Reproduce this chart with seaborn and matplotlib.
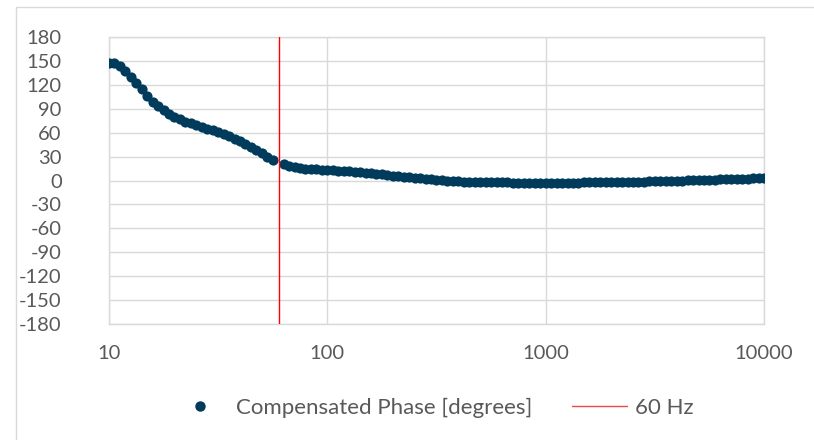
import matplotlib
matplotlib.use("Agg")
import matplotlib.pyplot as plt
import seaborn as sns
import pandas as pd
from matplotlib.lines import Line2D

freq = [10.00, 10.59, 11.22, 11.89, 12.59, 13.34, 14.13, 14.96, 15.85, 16.79,
        17.78, 18.84, 19.95, 21.13, 22.39, 23.71, 25.12, 26.61, 28.18, 29.85,
        31.62, 33.50, 35.48, 37.58, 39.81, 42.17, 44.67, 47.32, 50.12, 53.09,
        56.23, 63.10, 66.83, 70.79, 74.99, 79.43, 84.14, 89.13, 94.41,
        100.0, 105.9, 112.2, 118.9, 125.9, 133.4, 141.3, 149.6, 158.5, 167.9,
        177.8, 188.4, 199.5, 211.3, 223.9, 237.1, 251.2, 266.1, 281.8, 298.5,
        316.2, 335.0, 354.8, 375.8, 398.1, 421.7, 446.7, 473.2, 501.2, 530.9,
        562.3, 595.7, 631.0, 668.3, 707.9, 749.9, 794.3, 841.4, 891.3, 944.1,
        1000, 1059, 1122, 1189, 1259, 1334, 1413, 1496, 1585, 1679,
        1778, 1884, 1995, 2113, 2239, 2371, 2512, 2661, 2818, 2985,
        3162, 3350, 3548, 3758, 3981, 4217, 4467, 4732, 5012, 5309,
        5623, 5957, 6310, 6683, 7079, 7499, 7943, 8414, 8913, 9441, 10000]
phase = [147.5, 147, 144, 137, 130, 122, 115, 106, 99, 93,
         88, 84, 80, 77, 74, 71.5, 69, 67, 65, 63,
         60.5, 58, 55.5, 52.5, 49.5, 46, 42, 38, 34, 30,
         26, 20.5, 18.5, 17, 16, 15, 14.3, 13.8, 13.4,
         13, 12.7, 12.3, 11.8, 11.3, 10.8, 10.2, 9.6, 9, 8.3,
         7.6, 6.9, 6.2, 5.5, 4.8, 4.1, 3.4, 2.7, 2.0, 1.4,
         0.8, 0.3, -0.2, -0.6, -1.0, -1.3, -1.6, -1.8, -2.0, -2.2,
         -2.3, -2.4, -2.5, -2.5, -2.6, -2.6, -2.6, -2.7, -2.7, -2.7,
         -2.7, -2.8, -2.8, -2.8, -2.8, -2.7, -2.6, -2.5, -2.3, -2.2,
         -2.1, -2.0, -1.9, -1.8, -1.7, -1.6, -1.5, -1.4, -1.3, -1.1,
         -1.0, -0.8, -0.7, -0.5, -0.3, -0.1, 0.1, 0.3, 0.5, 0.8,
         1.0, 1.2, 1.4, 1.7, 1.9, 2.1, 2.3, 2.5, 2.7, 2.9, 3.1]
marker_freq = 60
y_ticks = list(range(-180, 181, 30))
x_ticks = [10, 100, 1000, 10000]
series_label = "Compensated Phase [degrees]"
line_label = "60 Hz"

df = pd.DataFrame({"freq": freq, "phase": phase})

sns.set_theme(style="white")
plt.rcParams["font.family"] = ["Lato", "DejaVu Sans"]

FS = 14.5
LFS = 16
fig = plt.figure(figsize=(8.14, 4.40), dpi=100)
ax = fig.add_axes([109/814, 1-324/440, (764-109)/814, (324-37)/440])

dot_color = "#003B5C"
sns.scatterplot(data=df, x="freq", y="phase", ax=ax, color=dot_color,
                s=54, edgecolor=dot_color, linewidth=0, zorder=3, legend=False)
ax.axvline(marker_freq, color="#FF0000", lw=1.0, zorder=4)

ax.set_xscale("log")
ax.set_xlim(10, 10000)
ax.set_ylim(-180, 180)
ax.set_xticks(x_ticks)
ax.set_xticklabels([str(t) for t in x_ticks])
ax.minorticks_off()
ax.set_yticks(y_ticks)
ax.set_yticklabels([str(t) for t in y_ticks])
ax.grid(True, color="#D9D9D9", lw=1.0)
ax.set_axisbelow(True)
for s in ax.spines.values():
    s.set_visible(True)
    s.set_color("#D9D9D9")
    s.set_linewidth(1.0)
ax.tick_params(axis="both", length=0, labelsize=FS, colors="#595959")
ax.tick_params(axis="x", pad=15)
ax.tick_params(axis="y", pad=34)
ax.set_xlabel("")
ax.set_ylabel("")

handles = [Line2D([0], [0], marker="o", color="none", markerfacecolor=dot_color,
                  markeredgecolor=dot_color, markersize=6.5),
           Line2D([0], [0], color="#E84848", lw=1.0)]
leg = fig.legend(handles, [series_label, line_label], loc="center",
                 bbox_to_anchor=(433/814, 1-408/440), ncol=2, frameon=False,
                 fontsize=LFS, handlelength=2.5, columnspacing=1.8,
                 handletextpad=0.33)
for t in leg.get_texts():
    t.set_color("#595959")

# chart border
fig.add_artist(Line2D([16/814, 16/814], [0, 1-7/440], transform=fig.transFigure,
                      color="#D9D9D9", lw=1.0))
fig.add_artist(Line2D([16/814, 1], [1-7/440, 1-7/440], transform=fig.transFigure,
                      color="#D9D9D9", lw=1.0))

fig.savefig("out.png", dpi=100)
